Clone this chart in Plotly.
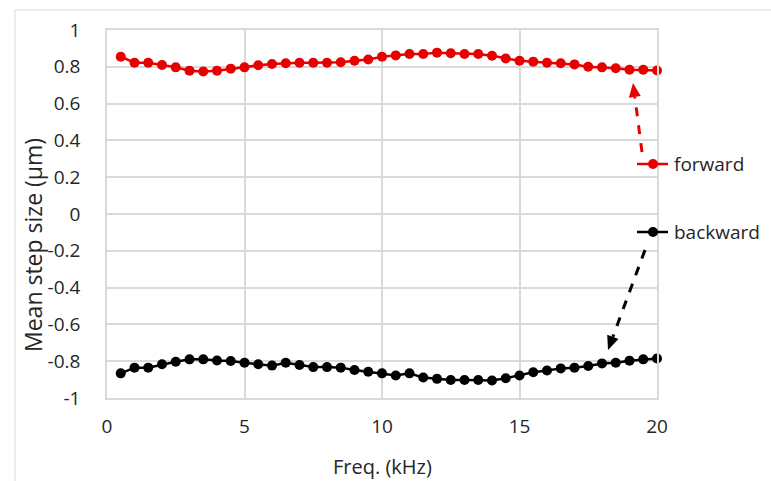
import math
import plotly.graph_objects as go

# Frequency sweep (kHz) and mean step size (µm) for each direction
freq_khz = [0.5 * i for i in range(1, 41)]
forward_um = [0.855, 0.822, 0.822, 0.810, 0.797, 0.779, 0.774, 0.779, 0.790, 0.797,
              0.808, 0.815, 0.819, 0.822, 0.822, 0.822, 0.825, 0.833, 0.840, 0.855,
              0.862, 0.870, 0.870, 0.877, 0.874, 0.870, 0.870, 0.860, 0.845, 0.833,
              0.828, 0.822, 0.819, 0.813, 0.800, 0.797, 0.792, 0.784, 0.784, 0.780]
backward_um = [-0.866, -0.835, -0.835, -0.817, -0.803, -0.790, -0.790, -0.796, -0.799, -0.808,
               -0.817, -0.824, -0.808, -0.821, -0.832, -0.832, -0.835, -0.848, -0.857, -0.866,
               -0.878, -0.866, -0.889, -0.896, -0.902, -0.902, -0.902, -0.905, -0.893, -0.878,
               -0.860, -0.851, -0.839, -0.835, -0.826, -0.812, -0.808, -0.797, -0.790, -0.785]
series_names = ["forward", "backward"]
series_colors = ["#e60000", "#000000"]
x_ticks = [0, 5, 10, 15, 20]
y_ticks = [-1, -0.8, -0.6, -0.4, -0.2, 0, 0.2, 0.4, 0.6, 0.8, 1]
y_ticktext = ["-1", "-0.8", "-0.6", "-0.4", "-0.2", "0", "0.2", "0.4", "0.6", "0.8", "1"]

W, H = 771, 481
L, R, T, B = 107, 114, 30, 83
PW, PH = W - L - R, H - T - B
FONT = "'Open Sans', Lato, sans-serif"
GRID = "#d9d9d9"
TEXT = "#262626"


def px(x, y):
    """Pixel position in the page -> paper coordinates."""
    return (x - L) / PW, (H - B - y) / PH


fig = go.Figure()
for name, vals, col in zip(series_names, [forward_um, backward_um], series_colors):
    fig.add_trace(go.Scatter(
        x=freq_khz, y=vals, name=name, mode="lines+markers",
        line=dict(color=col, width=2.5),
        marker=dict(color=col, size=10),
        showlegend=False, cliponaxis=False,
    ))

shapes = []
annotations = []

# Outer chart frame
x0, y0 = px(15, 10)
x1, y1 = px(800, 500)
shapes.append(dict(type="rect", xref="paper", yref="paper", x0=x0, y0=y1, x1=x1, y1=y0,
                   line=dict(color=GRID, width=1), layer="below"))

# Series labels with line+marker keys
for name, col, ky in zip(series_names, series_colors, [164, 232]):
    a0, b0 = px(637, ky)
    a1, _ = px(668, ky)
    shapes.append(dict(type="line", xref="paper", yref="paper", x0=a0, y0=b0, x1=a1, y1=b0,
                       line=dict(color=col, width=2.5)))
    c0, d0 = px(648, ky - 5)
    c1, d1 = px(658, ky + 5)
    shapes.append(dict(type="circle", xref="paper", yref="paper", x0=c0, y0=d1, x1=c1, y1=d0,
                       fillcolor=col, line=dict(color=col, width=0)))
    tx, ty = px(672, ky)
    annotations.append(dict(x=tx, y=ty, xref="paper", yref="paper", text=name, showarrow=False,
                            xanchor="left", yanchor="middle",
                            font=dict(family=FONT, size=19, color=TEXT)))


def dashed_arrow(tail, tip, col):
    (tx_, ty_), (hx, hy) = tail, tip
    dx, dy = hx - tx_, hy - ty_
    n = math.hypot(dx, dy)
    ux, uy = dx / n, dy / n
    hl, hw = 14, 6
    bx, by = hx - ux * hl, hy - uy * hl
    p0 = px(tx_, ty_)
    p1 = px(bx, by)
    shapes.append(dict(type="line", xref="paper", yref="paper", x0=p0[0], y0=p0[1],
                       x1=p1[0], y1=p1[1], line=dict(color=col, width=3, dash="dash")))
    lx, ly = bx - uy * hw, by + ux * hw
    rx, ry = bx + uy * hw, by - ux * hw
    pts = [px(hx, hy), px(lx, ly), px(rx, ry)]
    path = "M {} {} L {} {} L {} {} Z".format(*[v for p in pts for v in p])
    shapes.append(dict(type="path", xref="paper", yref="paper", path=path,
                       fillcolor=col, line=dict(color=col, width=0)))


dashed_arrow((642, 152), (633, 83), series_colors[0])
dashed_arrow((645, 250), (608, 350), series_colors[1])

# Axis titles
ax_, ay_ = px(382, 466)
annotations.append(dict(x=ax_, y=ay_, xref="paper", yref="paper", text="Freq. (kHz)",
                        showarrow=False, xanchor="center", yanchor="middle",
                        font=dict(family=FONT, size=20, color=TEXT)))
bx_, by_ = px(33, 245)
annotations.append(dict(x=bx_, y=by_, xref="paper", yref="paper", text="Mean step size (µm)",
                        showarrow=False, xanchor="center", yanchor="middle", textangle=-90,
                        font=dict(family=FONT, size=23, color=TEXT)))

fig.update_layout(
    width=W, height=H,
    margin=dict(l=L, r=R, t=T, b=B, pad=0),
    paper_bgcolor="white", plot_bgcolor="white",
    font=dict(family=FONT, size=19, color=TEXT),
    shapes=shapes, annotations=annotations,
    showlegend=False,
)
fig.update_xaxes(range=[0, 20], tickvals=x_ticks, showgrid=True,
                 gridcolor=GRID, gridwidth=1.5, zeroline=False,
                 showline=True, linecolor=GRID, linewidth=1.5, mirror=True,
                 ticks="", ticklabelstandoff=10, tickfont=dict(size=19))
fig.update_yaxes(range=[-1, 1], tickvals=y_ticks, ticktext=y_ticktext,
                 showgrid=True, gridcolor=GRID, gridwidth=1.5, zeroline=False,
                 showline=True, linecolor=GRID, linewidth=1.5, mirror=True,
                 ticks="", ticklabelstandoff=21, tickfont=dict(size=19))

fig.write_html("out.html")
